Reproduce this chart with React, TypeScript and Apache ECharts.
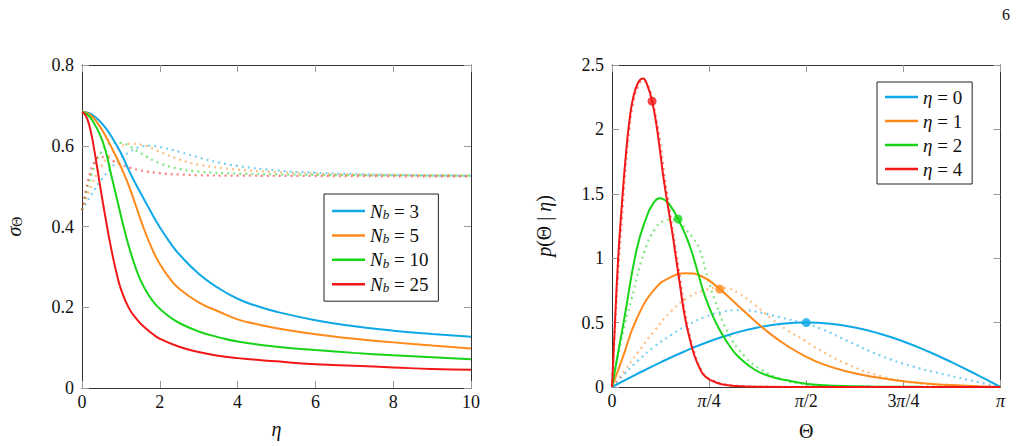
import React, { useEffect, useRef } from 'react';
import * as echarts from 'echarts';

const FONT = 'serif';
const COLORS = ['#0FA8E6', '#FF8A1C', '#17D417', '#F21717'];

const nbValues = ['3', '5', '10', '25'];
const etaValues = ['0', '1', '2', '4'];
const thetaTickLabels = ['0', '{i|π}/4', '{i|π}/2', '3{i|π}/4', '{i|π}'];

// Left panel: sigma_Theta vs eta (solid)
const sigmaNb3 = [[0, 0.684], [0.2, 0.68], [0.4, 0.666], [0.6, 0.645], [0.8, 0.616], [1.0, 0.582], [1.25, 0.53], [1.5, 0.484], [1.75, 0.44], [2.0, 0.398], [2.25, 0.362], [2.5, 0.331], [3.0, 0.283], [3.5, 0.248], [4.0, 0.221], [4.5, 0.203], [5.0, 0.189], [6.0, 0.168], [7.0, 0.153], [8.0, 0.142], [9.0, 0.134], [10, 0.127]];
const sigmaNb5 = [[0, 0.684], [0.2, 0.677], [0.4, 0.656], [0.6, 0.625], [0.8, 0.588], [1.0, 0.548], [1.2, 0.502], [1.4, 0.447], [1.6, 0.392], [1.8, 0.345], [2.0, 0.307], [2.25, 0.272], [2.5, 0.246], [3.0, 0.212], [3.5, 0.19], [4.0, 0.17], [4.5, 0.158], [5.0, 0.148], [6.0, 0.133], [7.0, 0.122], [8.0, 0.113], [9.0, 0.105], [10, 0.098]];
const sigmaNb10 = [[0, 0.684], [0.15, 0.676], [0.3, 0.657], [0.45, 0.63], [0.6, 0.59], [0.75, 0.528], [0.9, 0.468], [1.05, 0.407], [1.2, 0.352], [1.35, 0.306], [1.5, 0.268], [1.7, 0.232], [1.9, 0.206], [2.2, 0.18], [2.5, 0.161], [3.0, 0.14], [3.5, 0.126], [4.0, 0.115], [5.0, 0.102], [6.0, 0.094], [7.0, 0.087], [8.0, 0.081], [9.0, 0.076], [10, 0.071]];
const sigmaNb25 = [[0, 0.684], [0.1, 0.674], [0.2, 0.646], [0.3, 0.598], [0.4, 0.54], [0.5, 0.48], [0.6, 0.424], [0.7, 0.37], [0.8, 0.322], [0.9, 0.28], [1.0, 0.245], [1.2, 0.199], [1.4, 0.171], [1.6, 0.151], [1.8, 0.135], [2.0, 0.122], [2.5, 0.102], [3.0, 0.089], [3.5, 0.08], [4.0, 0.074], [5.0, 0.066], [6.0, 0.059], [7.0, 0.055], [8.0, 0.051], [9.0, 0.047], [10, 0.045]];

// Left panel: dotted curves
const dotNb3 = [[0, 0.44], [0.25, 0.48], [0.5, 0.516], [0.75, 0.545], [1.0, 0.568], [1.25, 0.586], [1.5, 0.597], [1.75, 0.6], [2.0, 0.597], [2.5, 0.585], [3.0, 0.571], [3.5, 0.559], [4.0, 0.55], [5.0, 0.539], [6.0, 0.533], [7.0, 0.53], [8.0, 0.528], [10, 0.526]];
const dotNb5 = [[0, 0.44], [0.25, 0.503], [0.5, 0.55], [0.75, 0.58], [1.0, 0.598], [1.25, 0.605], [1.5, 0.603], [2.0, 0.585], [2.5, 0.566], [3.0, 0.553], [4.0, 0.541], [5.0, 0.535], [6.0, 0.531], [7.0, 0.529], [8.0, 0.528], [10, 0.526]];
const dotNb10 = [[0, 0.44], [0.25, 0.53], [0.5, 0.585], [0.75, 0.606], [1.0, 0.607], [1.25, 0.597], [1.5, 0.582], [2.0, 0.557], [2.5, 0.543], [3.0, 0.536], [4.0, 0.531], [5.0, 0.529], [7.0, 0.527], [10, 0.526]];
const dotNb25 = [[0, 0.44], [0.1, 0.49], [0.2, 0.53], [0.3, 0.556], [0.45, 0.572], [0.6, 0.572], [0.8, 0.562], [1.0, 0.553], [1.25, 0.545], [1.5, 0.539], [2.0, 0.532], [2.5, 0.529], [3.0, 0.527], [4.0, 0.526], [6.0, 0.525], [10, 0.524]];

// Right panel: p(Theta | eta) (solid)
const densEta0 = [[0, 0], [0.19635, 0.0975], [0.3927, 0.1913], [0.58905, 0.2778], [0.7854, 0.3536], [0.98175, 0.4157], [1.1781, 0.4619], [1.37445, 0.4904], [1.5708, 0.5], [1.76715, 0.4904], [1.9635, 0.4619], [2.15985, 0.4157], [2.35619, 0.3536], [2.55254, 0.2778], [2.74889, 0.1913], [2.94524, 0.0975], [3.14159, 0]];
const densEta1 = [[0, 0], [0.08, 0.21], [0.2, 0.53], [0.35, 0.765], [0.48, 0.855], [0.6, 0.884], [0.72, 0.862], [0.871, 0.76], [1.02, 0.63], [1.155, 0.513], [1.29, 0.405], [1.42, 0.318], [1.56, 0.24], [1.7, 0.18], [1.9, 0.121], [2.17, 0.07], [2.43, 0.037], [2.7, 0.017], [2.97, 0.006], [3.14159, 0]];
const densEta2 = [[0, 0], [0.05, 0.27], [0.1, 0.535], [0.2, 1.07], [0.28, 1.32], [0.33, 1.42], [0.386, 1.465], [0.43, 1.45], [0.47, 1.41], [0.534, 1.305], [0.59, 1.19], [0.64, 1.064], [0.7, 0.87], [0.75, 0.71], [0.82, 0.54], [0.885, 0.42], [0.95, 0.32], [1.02, 0.237], [1.155, 0.134], [1.29, 0.08], [1.45, 0.045], [1.6, 0.022], [1.8, 0.01], [2.1, 0.003], [2.5, 0.001], [3.14159, 0]];
const densEta4 = [[0, 0], [0.025, 0.52], [0.05, 1.0], [0.08, 1.42], [0.11, 1.78], [0.14, 2.06], [0.17, 2.24], [0.21, 2.36], [0.25, 2.395], [0.29, 2.33], [0.324, 2.22], [0.36, 2.03], [0.386, 1.85], [0.42, 1.6], [0.453, 1.4], [0.494, 1.16], [0.507, 1.07], [0.55, 0.79], [0.588, 0.55], [0.63, 0.37], [0.669, 0.237], [0.71, 0.145], [0.75, 0.085], [0.82, 0.043], [0.885, 0.022], [1.0, 0.008], [1.2, 0.002], [1.6, 0], [3.14159, 0]];

// Right panel: dotted curves
const dotEta0 = [[0, 0], [0.1, 0.1], [0.21, 0.205], [0.345, 0.315], [0.48, 0.405], [0.615, 0.482], [0.75, 0.543], [0.885, 0.582], [1.0, 0.596], [1.1, 0.594], [1.2, 0.578], [1.357, 0.542], [1.5, 0.508], [1.571, 0.49], [1.7, 0.448], [1.9, 0.36], [2.17, 0.245], [2.43, 0.16], [2.7, 0.095], [2.97, 0.036], [3.14159, 0]];
const dotEta1 = [[0, 0], [0.1, 0.125], [0.21, 0.27], [0.345, 0.44], [0.48, 0.59], [0.615, 0.695], [0.75, 0.752], [0.87, 0.77], [0.95, 0.762], [1.02, 0.73], [1.155, 0.638], [1.29, 0.53], [1.42, 0.44], [1.56, 0.36], [1.63, 0.315], [1.9, 0.178], [2.17, 0.085], [2.43, 0.036], [2.7, 0.013], [2.97, 0.004], [3.14159, 0]];
const dotEta2 = [[0, 0], [0.076, 0.37], [0.157, 0.68], [0.265, 1.06], [0.35, 1.23], [0.42, 1.29], [0.48, 1.3], [0.55, 1.27], [0.6, 1.22], [0.66, 1.15], [0.71, 1.064], [0.77, 0.86], [0.83, 0.68], [0.94, 0.42], [1.074, 0.237], [1.209, 0.134], [1.37, 0.06], [1.5, 0.03], [1.7, 0.012], [2.0, 0.003], [3.14159, 0]];
const dotEta4 = [[0, 0], [0.05, 0.9], [0.08, 1.3], [0.11, 1.7], [0.14, 2.0], [0.17, 2.2], [0.21, 2.33], [0.25, 2.38], [0.29, 2.34], [0.324, 2.24], [0.36, 2.07], [0.39, 1.9], [0.42, 1.67], [0.453, 1.46], [0.494, 1.2], [0.51, 1.1], [0.55, 0.85], [0.588, 0.6], [0.63, 0.4], [0.669, 0.26], [0.71, 0.155], [0.75, 0.09], [0.82, 0.05], [0.885, 0.028], [1.0, 0.01], [1.2, 0.002], [1.6, 0], [3.14159, 0]];

// Markers on right panel
const meanTheta = [1.5708, 0.871, 0.534, 0.324];
const meanDensity = [0.5, 0.76, 1.305, 2.219];

const leftSolid = [sigmaNb3, sigmaNb5, sigmaNb10, sigmaNb25];
const leftDotted = [dotNb3, dotNb5, dotNb10, dotNb25];
const rightSolid = [densEta0, densEta1, densEta2, densEta4];
const rightDotted = [dotEta0, dotEta1, dotEta2, dotEta4];

const TXT = '#111';
const SMOOTH = 0.5;

const axisBase = {
  type: 'value',
  axisLine: { show: true, onZero: false, lineStyle: { color: '#333', width: 1 } },
  axisTick: { show: true, inside: true, length: 7, lineStyle: { color: '#999', width: 1 } },
  splitLine: { show: false },
};

const labelStyle = { fontFamily: FONT, fontSize: 18, color: TXT };

export default function App() {
  const ref = useRef<HTMLDivElement>(null);
  useEffect(() => {
    if (!ref.current) return;
    const chart = echarts.init(ref.current, null, { renderer: 'svg' });
    const series: any[] = [];
    leftDotted.forEach((d, i) => series.push({
      type: 'line', name: 'dl' + i, xAxisIndex: 0, yAxisIndex: 0, data: d,
      symbol: 'none', showSymbol: false, smooth: SMOOTH, z: 2,
      lineStyle: { color: COLORS[i], width: 2.2, type: [2, 4], opacity: 0.55 },
      itemStyle: { color: COLORS[i] },
    }));
    leftSolid.forEach((d, i) => series.push({
      type: 'line', name: 'Nb=' + nbValues[i], xAxisIndex: 0, yAxisIndex: 0, data: d,
      symbol: 'none', showSymbol: false, smooth: SMOOTH, z: 3,
      lineStyle: { color: COLORS[i], width: 2 },
      itemStyle: { color: COLORS[i] },
    }));
    rightDotted.forEach((d, i) => series.push({
      type: 'line', name: 'dr' + i, xAxisIndex: 2, yAxisIndex: 2, data: d,
      symbol: 'none', showSymbol: false, smooth: SMOOTH, z: 2,
      lineStyle: { color: COLORS[i], width: 2.2, type: [2, 4], opacity: 0.55 },
      itemStyle: { color: COLORS[i] },
    }));
    rightSolid.forEach((d, i) => series.push({
      type: 'line', name: 'eta=' + etaValues[i], xAxisIndex: 2, yAxisIndex: 2, data: d,
      symbol: 'none', showSymbol: false, smooth: SMOOTH, z: 3,
      lineStyle: { color: COLORS[i], width: 2 },
      itemStyle: { color: COLORS[i] },
    }));
    series.push({
      type: 'scatter', name: 'means', xAxisIndex: 2, yAxisIndex: 2, symbolSize: 9, z: 5,
      data: meanTheta.map((t, i) => ({ value: [t, meanDensity[i]], itemStyle: { color: COLORS[i] } })),
    });

    const legendCommon = {
      orient: 'vertical', icon: 'rect', itemWidth: 33, itemHeight: 2.5,
      borderColor: '#222', borderWidth: 1, backgroundColor: '#fff', selectedMode: false,
      textStyle: {
        fontFamily: FONT, fontSize: 18, color: TXT, lineHeight: 20,
        rich: {
          n: { fontFamily: FONT, fontSize: 19, fontStyle: 'italic', color: TXT, lineHeight: 20 },
          b: { fontFamily: FONT, fontSize: 13, fontStyle: 'italic', color: TXT, lineHeight: 10, verticalAlign: 'bottom' },
          t: { fontFamily: FONT, fontSize: 19, color: TXT, lineHeight: 20 },
        },
      },
    };

    const option: any = {
      animation: false,
      textStyle: { fontFamily: FONT },
      grid: [
        { left: 82, top: 65, width: 389, height: 323 },
        { left: 612, top: 65, width: 388.5, height: 323 },
      ],
      xAxis: [
        {
          ...axisBase, gridIndex: 0, min: 0, max: 10, interval: 2, position: 'bottom',
          axisLabel: { ...labelStyle, margin: 5 },
          name: 'η', nameLocation: 'middle', nameGap: 31,
          nameTextStyle: { fontFamily: FONT, fontSize: 20, fontStyle: 'italic', color: TXT },
        },
        { ...axisBase, gridIndex: 0, min: 0, max: 10, interval: 2, position: 'top', axisLabel: { show: false } },
        {
          ...axisBase, gridIndex: 1, min: 0, max: Math.PI, interval: Math.PI / 4, position: 'bottom',
          axisLabel: {
            ...labelStyle, margin: 5,
            formatter: (v: number) => thetaTickLabels[Math.round(v / (Math.PI / 4))] ?? '',
            rich: { i: { fontFamily: FONT, fontSize: 18, fontStyle: 'italic', color: TXT } },
          },
          name: 'Θ', nameLocation: 'middle', nameGap: 34,
          nameTextStyle: { fontFamily: FONT, fontSize: 20, color: TXT },
        },
        { ...axisBase, gridIndex: 1, min: 0, max: Math.PI, interval: Math.PI / 4, position: 'top', axisLabel: { show: false } },
      ],
      yAxis: [
        {
          ...axisBase, gridIndex: 0, min: 0, max: 0.8, interval: 0.2, position: 'left',
          axisLabel: { ...labelStyle, margin: 8 },
          name: '{s|σ}{u|Θ}', nameLocation: 'middle', nameGap: 58, nameRotate: 90,
          nameTextStyle: {
            fontFamily: FONT, fontSize: 20, color: TXT,
            rich: {
              s: { fontFamily: FONT, fontSize: 20, fontStyle: 'italic', color: TXT, lineHeight: 20 },
              u: { fontFamily: FONT, fontSize: 14, color: TXT, lineHeight: 10, verticalAlign: 'bottom' },
            },
          },
        },
        { ...axisBase, gridIndex: 0, min: 0, max: 0.8, interval: 0.2, position: 'right', axisLabel: { show: false } },
        {
          ...axisBase, gridIndex: 1, min: 0, max: 2.5, interval: 0.5, position: 'left',
          axisLabel: { ...labelStyle, margin: 8 },
          name: '{i|p}(Θ | {i|η})', nameLocation: 'middle', nameGap: 58, nameRotate: 90,
          nameTextStyle: {
            fontFamily: FONT, fontSize: 20, color: TXT,
            rich: { i: { fontFamily: FONT, fontSize: 20, fontStyle: 'italic', color: TXT } },
          },
        },
        { ...axisBase, gridIndex: 1, min: 0, max: 2.5, interval: 0.5, position: 'right', axisLabel: { show: false } },
      ],
      legend: [
        {
          ...legendCommon, left: 324, top: 194, itemGap: 4.4, padding: [7, 10, 7, 8],
          data: nbValues.map((v) => 'Nb=' + v),
          formatter: (name: string) => `{n|N}{b|b}{t| = ${name.split('=')[1]}}`,
        },
        {
          ...legendCommon, left: 877, top: 82, itemGap: 4, padding: [5, 10, 5, 8],
          data: etaValues.map((v) => 'eta=' + v),
          formatter: (name: string) => `{n|η}{t| = ${name.split('=')[1]}}`,
        },
      ],
      graphic: [
        { type: 'text', left: 1002, top: 6, style: { text: '6', fontFamily: FONT, fontSize: 16, fill: TXT } },
      ],
      series,
    };
    chart.setOption(option);
    return () => chart.dispose();
  }, []);
  return <div ref={ref} style={{ position: 'fixed', left: 0, top: 0, width: 1021, height: 446, background: '#fff' }} />;
}
